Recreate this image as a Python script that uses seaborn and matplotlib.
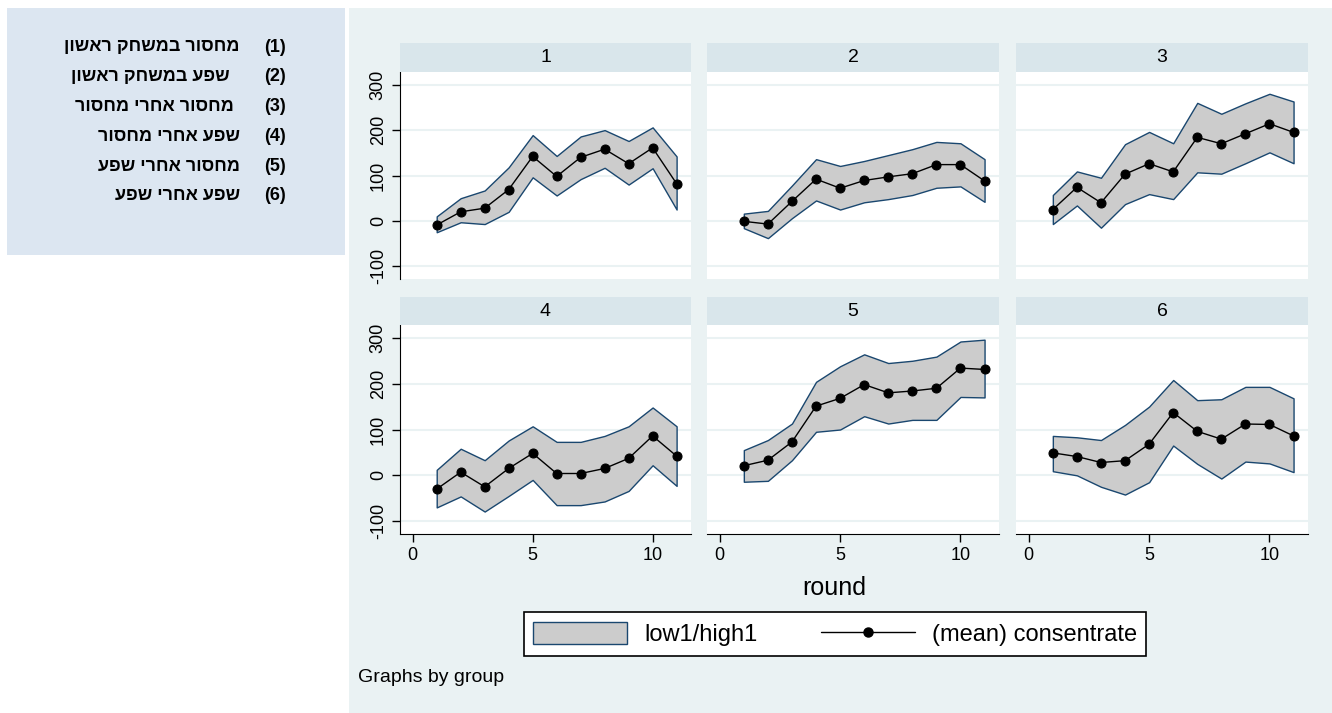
import numpy as np
import pandas as pd
import matplotlib
matplotlib.use('Agg')
import matplotlib.pyplot as plt
import seaborn as sns
from matplotlib.patches import Rectangle, Patch
from matplotlib.lines import Line2D

# data
rounds = list(range(1, 12))
groups = ['1', '2', '3', '4', '5', '6']

mean_g1 = [-9, 20, 28, 69, 142, 98, 140, 158, 126, 161, 82]
high_g1 = [10, 50, 67, 118, 189, 143, 186, 200, 176, 206, 142]
low_g1 = [-25, -3, -7, 20, 96, 56, 92, 117, 80, 116, 25]

mean_g2 = [-1, -7, 43, 92, 72, 89, 97, 104, 124, 124, 88]
high_g2 = [16, 22, 78, 136, 121, 132, 145, 158, 174, 171, 136]
low_g2 = [-16, -38, 6, 45, 25, 41, 48, 57, 73, 76, 42]

mean_g3 = [25, 74, 40, 103, 126, 108, 184, 170, 192, 214, 195]
high_g3 = [57, 109, 95, 169, 196, 171, 260, 236, 259, 280, 263]
low_g3 = [-7, 34, -15, 37, 59, 48, 107, 104, 127, 151, 127]

mean_g4 = [-30, 7, -25, 15, 48, 4, 4, 15, 37, 86, 42]
high_g4 = [12, 58, 33, 76, 107, 73, 73, 86, 107, 148, 107]
low_g4 = [-70, -46, -79, -45, -10, -65, -65, -57, -34, 22, -23]

mean_g5 = [21, 33, 73, 151, 168, 198, 180, 184, 190, 234, 231]
high_g5 = [55, 77, 113, 204, 238, 264, 245, 250, 259, 292, 296]
low_g5 = [-14, -12, 33, 95, 100, 129, 113, 121, 121, 171, 170]

mean_g6 = [49, 41, 28, 32, 68, 137, 96, 79, 112, 111, 86]
high_g6 = [86, 83, 77, 110, 150, 208, 164, 166, 193, 193, 168]
low_g6 = [9, 0, -25, -42, -15, 65, 25, -7, 30, 26, 7]

group_labels = ['מחסור במשחק ראשון', 'שפע במשחק ראשון', 'מחסור אחרי מחסור',
                'שפע אחרי מחסור', 'מחסור אחרי שפע', 'שפע אחרי שפע']

means = [mean_g1, mean_g2, mean_g3, mean_g4, mean_g5, mean_g6]
highs = [high_g1, high_g2, high_g3, high_g4, high_g5, high_g6]
lows = [low_g1, low_g2, low_g3, low_g4, low_g5, low_g6]

df = pd.concat([pd.DataFrame({'group': g, 'round': rounds, 'mean': m, 'low1': lo, 'high1': hi})
                for g, m, lo, hi in zip(groups, means, lows, highs)], ignore_index=True)

sns.set_style('white')
plt.rcParams['font.family'] = ['Liberation Sans', 'DejaVu Sans']
plt.rcParams['text.color'] = 'black'
plt.rcParams['xtick.color'] = 'black'
plt.rcParams['ytick.color'] = 'black'
plt.rcParams['axes.unicode_minus'] = False

W, H = 1332, 713
fig = plt.figure(figsize=(W / 100, H / 100), dpi=100, facecolor='white')

def box(x0, y0, x1, y1, color, zorder=0):
    r = Rectangle((x0 / W, 1 - y1 / H), (x1 - x0) / W, (y1 - y0) / H,
                  transform=fig.transFigure, facecolor=color, edgecolor='none', zorder=zorder)
    fig.add_artist(r)

# backgrounds
box(7, 8, 345, 255, '#dce6f1')
box(349, 8, W, H, '#eaf2f3')

# left label box (hebrew reversed for visual order)
label_right = [240, 230, 234, 240, 240, 240]
for i, lab in enumerate(group_labels):
    y = 1 - (47 + i * 29.8) / H
    fig.text(286 / W, y, '(%d)' % (i + 1), ha='right', va='center', fontsize=13, fontweight='bold')
    fig.text(label_right[i] / W, y, lab[::-1], ha='right', va='center', fontsize=13, fontweight='bold')

cols_x = [(400, 691), (707, 999), (1016, 1308)]
rows_y = [(43, 72, 279), (297, 325, 534)]

for k, g in enumerate(groups):
    r, c = divmod(k, 3)
    x0, x1 = cols_x[c]
    s0, p0, p1 = rows_y[r]
    box(x0, s0, x1, p0, '#d9e6eb', zorder=1)
    fig.text((x0 + x1) / 2 / W, 1 - (s0 + p0) / 2 / H, g, ha='center', va='center', fontsize=14)

    ax = fig.add_axes([x0 / W, 1 - p1 / H, (x1 - x0) / W, (p1 - p0) / H])
    ax.set_facecolor('white')
    sub = df[df['group'] == g]
    ax.fill_between(sub['round'], sub['low1'], sub['high1'], facecolor='#cccccc',
                    edgecolor='#1a476f', lw=1, zorder=2)
    sns.lineplot(data=sub, x='round', y='mean', ax=ax, color='black', lw=1, marker='o',
                 markersize=6.5, markeredgecolor='black', errorbar=None, zorder=3)

    ax.set_xlim(-0.53, 11.6)
    ax.set_ylim(-128, 328)
    ax.set_xticks([0, 5, 10])
    ax.set_yticks([-100, 0, 100, 200, 300])
    for yv in [-100, 0, 100, 200, 300]:
        ax.axhline(yv, color='#eaf2f3', lw=1.5, zorder=1)
    ax.set_xlabel('')
    ax.set_ylabel('')
    for s in ['top', 'right']:
        ax.spines[s].set_visible(False)
    ax.spines['left'].set_visible(c == 0)
    ax.spines['bottom'].set_visible(r == 1)
    ax.spines['left'].set_color('black')
    ax.spines['bottom'].set_color('black')
    ax.tick_params(axis='both', direction='out', length=6, width=1, color='black', labelsize=13,
                   left=(c == 0), labelleft=(c == 0), bottom=(r == 1), labelbottom=(r == 1))
    if c == 0:
        for t in ax.get_yticklabels():
            t.set_rotation(90)
            t.set_va('center')

fig.text(834 / W, 1 - 588 / H, 'round', ha='center', va='center', fontsize=18)
fig.text(358 / W, 1 - 677 / H, 'Graphs by group', ha='left', va='center', fontsize=14)

handles = [Patch(facecolor='#cccccc', edgecolor='#1a476f', lw=1),
           Line2D([], [], color='black', lw=1, marker='o', markersize=6.5)]
leg = fig.legend(handles, ['low1/high1', '(mean) consentrate'], loc='center',
                 bbox_to_anchor=(835 / W, 1 - 634 / H), ncol=2, frameon=True, fancybox=False,
                 fontsize=17, handlelength=4.0, handleheight=1.1, columnspacing=2.7,
                 handletextpad=0.7, borderpad=0.4, borderaxespad=0,
                 edgecolor='black', facecolor='white', framealpha=1)
leg.get_frame().set_linewidth(1.2)

fig.savefig('out.png', dpi=100, facecolor=fig.get_facecolor())
